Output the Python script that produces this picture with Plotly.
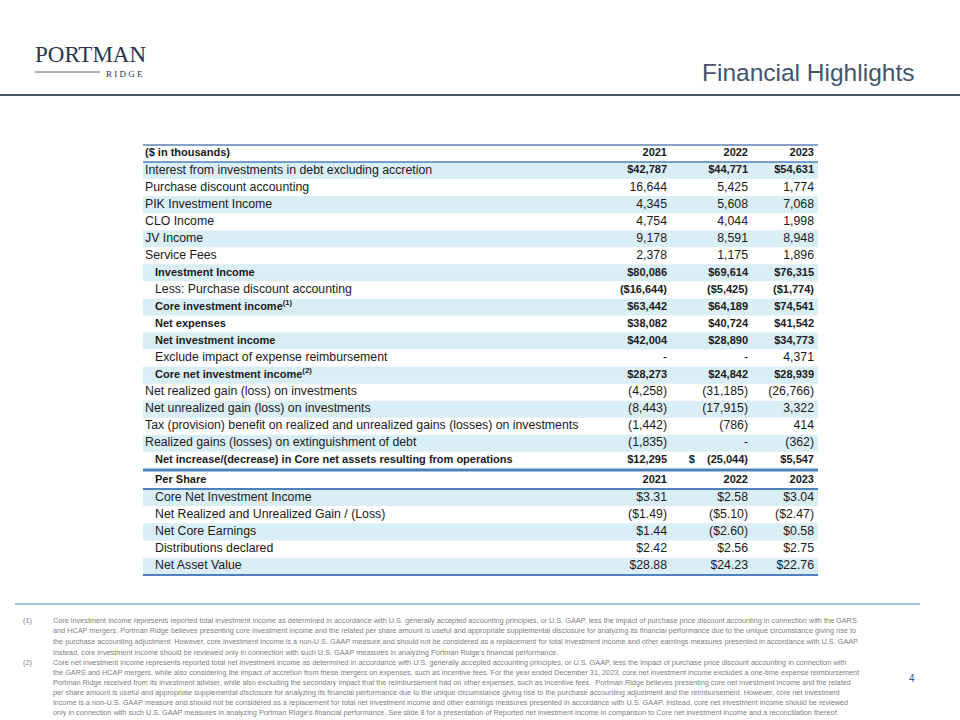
import plotly.graph_objects as go

# ---------------- data ----------------
years = ["2021", "2022", "2023"]

labels1 = [
    "Interest from investments in debt excluding accretion",
    "Purchase discount accounting",
    "PIK Investment Income",
    "CLO Income",
    "JV Income",
    "Service Fees",
    "Investment Income",
    "Less: Purchase discount accounting",
    "Core investment income<sup>(1)</sup>",
    "Net expenses",
    "Net investment income",
    "Exclude impact of expense reimbursement",
    "Core net investment income<sup>(2)</sup>",
    "Net realized gain (loss) on investments",
    "Net unrealized gain (loss) on investments",
    "Tax (provision) benefit on realized and unrealized gains (losses) on investments",
    "Realized gains (losses) on extinguishment of debt",
    "Net increase/(decrease) in Core net assets resulting from operations",
]
v2021 = [42787, 16644, 4345, 4754, 9178, 2378, 80086, -16644, 63442, 38082, 42004, 0, 28273, -4258, -8443, -1442, -1835, 12295]
v2022 = [44771, 5425, 5608, 4044, 8591, 1175, 69614, -5425, 64189, 40724, 28890, 0, 24842, -31185, -17915, -786, 0, -25044]
v2023 = [54631, 1774, 7068, 1998, 8948, 1896, 76315, -1774, 74541, 41542, 34773, 4371, 28939, -26766, 3322, 414, -362, 5547]

ps_labels = [
    "Core Net Investment Income",
    "Net Realized and Unrealized Gain / (Loss)",
    "Net Core Earnings",
    "Distributions declared",
    "Net Asset Value",
]
ps2021 = [3.31, -1.49, 1.44, 2.42, 28.88]
ps2022 = [2.58, -5.10, -2.60, 2.56, 24.23]
ps2023 = [3.04, -2.47, 0.58, 2.75, 22.76]

# row styling (indices into labels1)
dollar_rows = {0, 6, 7, 8, 9, 10, 12}
acct_rows = {17}
bold_label_rows = {6, 8, 9, 10, 12, 17}
bold_value_rows = {0, 6, 7, 8, 9, 10, 12, 17}
indent_rows = {6, 7, 8, 9, 10, 11, 12, 17}

footnote1 = [
    "Core investment income represents reported total investment income as determined in accordance with U.S. generally accepted accounting principles, or U.S. GAAP, less the impact of purchase price discount accounting in connection with the GARS",
    "and HCAP mergers. Portman Ridge believes presenting core investment income and the related per share amount is useful and appropriate supplemental disclosure for analyzing its financial performance due to the unique circumstance giving rise to",
    "the purchase accounting adjustment. However, core investment income is a non-U.S. GAAP measure and should not be considered as a replacement for total investment income and other earnings measures presented in accordance with U.S. GAAP.",
    "Instead, core investment income should be reviewed only in connection with such U.S. GAAP measures in analyzing Portman Ridge's financial performance.",
]
footnote2 = [
    "Core net investment income represents reported total net investment income as determined in accordance with U.S. generally accepted accounting principles, or U.S. GAAP, less the impact of purchase price discount accounting in connection with",
    "the GARS and HCAP mergers, while also considering the impact of accretion from these mergers on expenses, such as incentive fees. For the year ended December 31, 2023, core net investment income excludes a one-time expense reimbursement",
    "Portman Ridge received from its investment adviser, while also excluding the secondary impact that the reimbursement had on other expenses, such as incentive fees.  Portman Ridge believes presenting core net investment income and the related",
    "per share amount is useful and appropriate supplemental disclosure for analyzing its financial performance due to the unique circumstance giving rise to the purchase accounting adjustment and the reimbursement. However, core net investment",
    "income is a non-U.S. GAAP measure and should not be considered as a replacement for total net investment income and other earnings measures presented in accordance with U.S. GAAP. Instead, core net investment income should be reviewed",
    "only in connection with such U.S. GAAP measures in analyzing Portman Ridge's financial performance. See slide 8 for a presentation of Reported net investment income in comparison to Core net investment income and a reconciliation thereof.",
]

# ---------------- styling / layout ----------------
W, H = 960, 720
NB = "\u00a0"
BLUE_FILL = "#DAEEF6"
LINE_BLUE = "#4F81BD"
TXT = "#1A1A1A"
FONT = "Liberation Sans"
REG, BLD = 12.3, 11

TL, TR = 143, 818                 # table left / right edges
LAB_X, IND_X = 145, 155           # label x, indented label x
COL_R = [667, 748, 814]           # right edges of value columns
HDR_H, ROW_H = 17, 17.05
T1_TOP = 145
T1_HDR_BOT = T1_TOP + HDR_H
T1_BOT = T1_HDR_BOT + len(labels1) * ROW_H
T2_TOP = T1_BOT + 2
T2_HDR_BOT = T2_TOP + 18
ROW_H2 = 17.2
T2_BOT = T2_HDR_BOT + len(ps_labels) * ROW_H2


def fmt(v, i):
    if v == 0:
        return "-"
    s = f"{abs(v):,}"
    if i in acct_rows:
        s = "$" + s if v > 0 else "$" + NB * 4 + "(" + s + ")"
    elif i in dollar_rows:
        s = "$" + s if v > 0 else "($" + s + ")"
    else:
        s = s if v > 0 else "(" + s + ")"
    return "<b>" + s + "</b>" if i in bold_value_rows else s


def fmt_ps(v):
    s = f"${abs(v):.2f}"
    return s if v >= 0 else "(" + s + ")"


fig = go.Figure()

# ---- row shading (bars) ----
y1 = [T1_HDR_BOT + (i + 0.5) * ROW_H for i in range(len(labels1))]
y2 = [T2_HDR_BOT + (i + 0.5) * ROW_H2 for i in range(len(ps_labels))]
for ys, rh in ((y1, ROW_H), (y2, ROW_H2)):
    yy = [y for k, y in enumerate(ys) if k % 2 == 0]
    fig.add_trace(go.Bar(orientation="h", y=yy, x=[TR - TL] * len(yy), base=TL,
                         width=rh, marker=dict(color=BLUE_FILL, line=dict(width=0)),
                         hoverinfo="skip", showlegend=False))


def text_trace(xs, ys, texts, pos, sizes):
    fig.add_trace(go.Scatter(x=xs, y=ys, text=texts, mode="text", textposition=pos,
                             textfont=dict(family=FONT, size=sizes, color=TXT),
                             hoverinfo="skip", showlegend=False, cliponaxis=False))


# ---- main table ----
h1 = (T1_TOP + T1_HDR_BOT) / 2
text_trace([LAB_X], [h1], ["<b>($ in thousands)</b>"], "middle right", [BLD])
text_trace(COL_R, [h1] * 3, [f"<b>{y}</b>" for y in years], "middle left", [BLD] * 3)

lab_x = [IND_X if i in indent_rows else LAB_X for i in range(len(labels1))]
lab_t = ["<b>" + t + "</b>" if i in bold_label_rows else t for i, t in enumerate(labels1)]
lab_s = [BLD if i in bold_label_rows else REG for i in range(len(labels1))]
text_trace(lab_x, y1, lab_t, "middle right", lab_s)
val_s = [BLD if i in bold_value_rows else REG for i in range(len(labels1))]
for c, vals in enumerate([v2021, v2022, v2023]):
    text_trace([COL_R[c]] * len(vals), y1, [fmt(v, i) for i, v in enumerate(vals)],
               "middle left", val_s)

# ---- per share table ----
h2 = (T2_TOP + T2_HDR_BOT) / 2
text_trace([IND_X], [h2], ["<b>Per Share</b>"], "middle right", [BLD])
text_trace(COL_R, [h2] * 3, [f"<b>{y}</b>" for y in years], "middle left", [BLD] * 3)
text_trace([IND_X] * len(ps_labels), y2, ps_labels, "middle right", [REG] * len(ps_labels))
for c, vals in enumerate([ps2021, ps2022, ps2023]):
    text_trace([COL_R[c]] * len(vals), y2, [fmt_ps(v) for v in vals], "middle left",
               [REG] * len(vals))

# ---- rules ----
shapes = []


def hline(ypx, x0, x1, color, width):
    shapes.append(dict(type="line", xref="x", yref="y", x0=x0, x1=x1, y0=ypx, y1=ypx,
                       line=dict(color=color, width=width), layer="above"))


hline(T1_TOP, TL, TR, "#86A1C8", 2)
hline(T1_HDR_BOT, TL, TR, LINE_BLUE, 1.5)
hline(T1_BOT + 1, TL, TR, LINE_BLUE, 3)
hline(T2_HDR_BOT, TL, TR, LINE_BLUE, 2)
hline(T2_BOT, TL, TR, LINE_BLUE, 2)
hline(95, 0, 960, "#4A5868", 2)
hline(604, 15, 920, "#3A8DC8", 1)
hline(72, 35, 100, "#5A6678", 1)

annotations = []


def ann(text, xpx, ypx, size, color, xanchor="left", family=FONT):
    annotations.append(dict(text=text, x=xpx, y=ypx, xref="x", yref="y",
                            xanchor=xanchor, yanchor="middle", showarrow=False,
                            borderpad=0,
                            font=dict(size=size, color=color, family=family)))


ann("PORTMAN", 90, 54, 23, "#27354F", "center", "Liberation Serif")
ann("R I D G E", 124, 73.5, 9, "#27354F", "center", "Liberation Serif")
ann("Financial Highlights", 915, 72, 24.5, "#44546A", "right")
ann("4", 916, 678, 10, "#2F5597", "right")

FN_COLOR = "#808080"
FN_SIZE = 7.3
y = 620
ann("(1)", 22, y, FN_SIZE, FN_COLOR)
for line in footnote1:
    ann(line, 52, y, FN_SIZE, FN_COLOR)
    y += 10.8
y = 662
ann("(2)", 22, y, FN_SIZE, FN_COLOR)
for line in footnote2:
    ann(line, 52, y, FN_SIZE, FN_COLOR)
    y += 10.1

fig.update_layout(
    width=W, height=H, margin=dict(l=0, r=0, t=0, b=0),
    paper_bgcolor="white", plot_bgcolor="white",
    barmode="overlay", showlegend=False,
    xaxis=dict(range=[0, W], visible=False, fixedrange=True),
    yaxis=dict(range=[H, 0], visible=False, fixedrange=True),
    shapes=shapes, annotations=annotations,
)

fig.write_html("out.html", post_script="document.body.style.margin='0';",
               config={"displayModeBar": False})
